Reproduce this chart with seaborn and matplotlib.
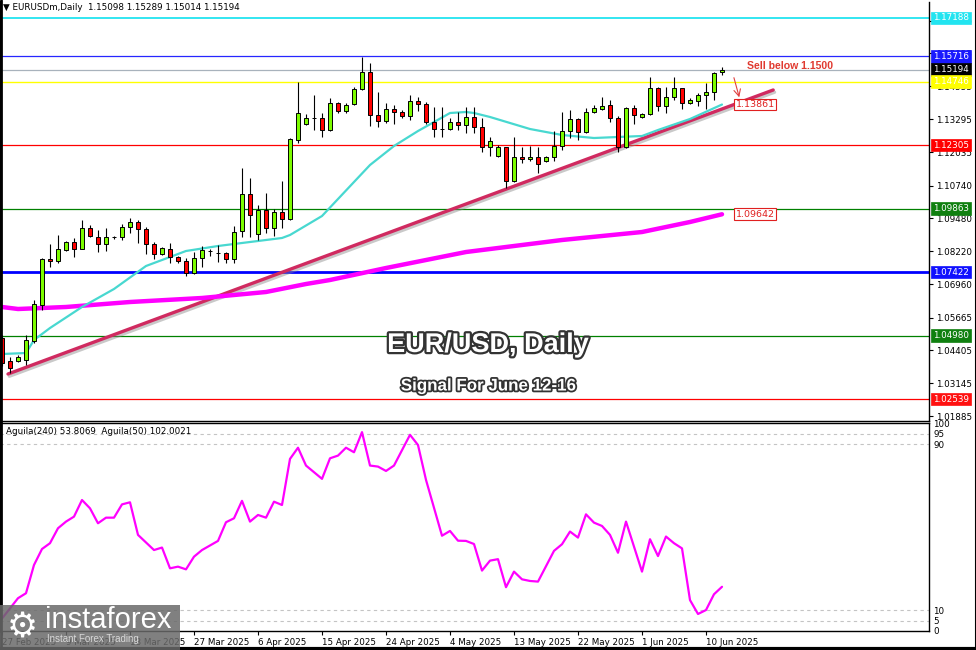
import numpy as np
import pandas as pd
import matplotlib
matplotlib.use("Agg")
import matplotlib.pyplot as plt
import matplotlib.patheffects as pe
from matplotlib.lines import Line2D
from matplotlib.patches import Rectangle
import seaborn as sns

sns.set_theme(style="white")
plt.rcParams["font.family"] = ["DejaVu Sans"]

# ---------------- data ----------------
bar_idx = list(range(91))
opens = [1.04885, 1.04001, 1.04001, 1.04039, 1.04770, 1.06154, 1.07922, 1.07845, 1.08268, 1.08576,
         1.08307, 1.09114, 1.08768, 1.08499, 1.08768, 1.08768, 1.09153, 1.09345, 1.09076, 1.08499,
         1.08115, 1.08307, 1.07999, 1.07845, 1.07384, 1.07961, 1.08230, 1.08153, 1.08153, 1.07922,
         1.08999, 1.10421, 1.08884, 1.09806, 1.09114, 1.09729, 1.09460, 1.12497, 1.13113, 1.13343,
         1.13343, 1.12882, 1.13920, 1.13612, 1.13881, 1.14458, 1.15112, 1.13459, 1.13228, 1.13689,
         1.13574, 1.13420, 1.13997, 1.13881, 1.13189, 1.12920, 1.12920, 1.13189, 1.13074, 1.13382,
         1.12997, 1.12228, 1.11882, 1.12228, 1.10921, 1.11844, 1.11767, 1.11844, 1.11690, 1.11844,
         1.12267, 1.12843, 1.13305, 1.12805, 1.13574, 1.13689, 1.13843, 1.13343, 1.12228, 1.13728,
         1.13382, 1.13497, 1.14497, 1.13805, 1.14151, 1.14497, 1.13920, 1.13997, 1.14228, 1.14343,
         1.15098]
highs = [1.05000, 1.04154, 1.04231, 1.05000, 1.06346, 1.07961, 1.08499, 1.08845, 1.08614, 1.08730,
         1.09422, 1.09229, 1.09037, 1.09114, 1.08807, 1.09268, 1.09499, 1.09422, 1.09153, 1.08576,
         1.08384, 1.08537, 1.08038, 1.07961, 1.08191, 1.08422, 1.08307, 1.08460, 1.08191, 1.09191,
         1.11421, 1.11036, 1.09998, 1.10460, 1.09845, 1.10921, 1.12574, 1.14727, 1.13497, 1.14228,
         1.13535, 1.14112, 1.13958, 1.13920, 1.14535, 1.15689, 1.15458, 1.14343, 1.13920, 1.13843,
         1.13651, 1.14228, 1.14151, 1.13958, 1.13766, 1.13766, 1.13343, 1.13574, 1.13766, 1.13766,
         1.13343, 1.12613, 1.12305, 1.12228, 1.12613, 1.12228, 1.12267, 1.12228, 1.11882, 1.12843,
         1.13574, 1.13651, 1.13343, 1.13728, 1.13843, 1.14151, 1.14035, 1.13420, 1.13766, 1.13843,
         1.13535, 1.14920, 1.14535, 1.14535, 1.14920, 1.14497, 1.14112, 1.14304, 1.14689, 1.15112,
         1.15289]
lows = [1.03809, 1.03540, 1.03962, 1.03847, 1.04693, 1.05961, 1.07615, 1.07768, 1.08230, 1.07999,
        1.08307, 1.08768, 1.08191, 1.08230, 1.08691, 1.08653, 1.08922, 1.08537, 1.08115, 1.07922,
        1.08076, 1.07768, 1.07768, 1.07269, 1.07346, 1.07615, 1.08038, 1.07807, 1.07768, 1.07768,
        1.08768, 1.08768, 1.08653, 1.08922, 1.08807, 1.09114, 1.09422, 1.12382, 1.13074, 1.12882,
        1.12613, 1.12843, 1.13535, 1.13535, 1.13843, 1.14420, 1.13036, 1.12997, 1.13151, 1.13113,
        1.13343, 1.13266, 1.13612, 1.13113, 1.12613, 1.12613, 1.12882, 1.12882, 1.12767, 1.12767,
        1.12036, 1.11882, 1.11844, 1.10652, 1.10883, 1.11613, 1.11690, 1.11229, 1.11652, 1.11690,
        1.12113, 1.12574, 1.12497, 1.12767, 1.13535, 1.13651, 1.13189, 1.12036, 1.12190, 1.13113,
        1.13343, 1.13459, 1.13612, 1.13535, 1.14035, 1.13689, 1.13881, 1.13805, 1.13689, 1.14035,
        1.15014]
closes = [1.03924, 1.03732, 1.04154, 1.04808, 1.06192, 1.07922, 1.07845, 1.08307, 1.08576, 1.08307,
          1.09114, 1.08807, 1.08499, 1.08768, 1.08760, 1.09153, 1.09345, 1.09076, 1.08499, 1.08115,
          1.08345, 1.07999, 1.07845, 1.07384, 1.07961, 1.08268, 1.08225, 1.08150, 1.07922, 1.08960,
          1.10421, 1.09614, 1.09806, 1.09114, 1.09729, 1.09460, 1.12536, 1.13535, 1.13343, 1.13335,
          1.12882, 1.13920, 1.13612, 1.13843, 1.14458, 1.15112, 1.13459, 1.13228, 1.13689, 1.13574,
          1.13420, 1.13997, 1.13881, 1.13189, 1.12920, 1.12925, 1.13189, 1.13074, 1.13382, 1.12997,
          1.12228, 1.12459, 1.12228, 1.10921, 1.11844, 1.11767, 1.11844, 1.11575, 1.11844, 1.12267,
          1.12843, 1.13305, 1.12805, 1.13574, 1.13728, 1.13805, 1.13343, 1.12228, 1.13728, 1.13459,
          1.13497, 1.14497, 1.13805, 1.14151, 1.14497, 1.13920, 1.14035, 1.14228, 1.14343, 1.15073,
          1.15194]

ma_fast_idx = [0, 3, 4, 6, 10, 14, 18, 23, 27, 31, 35, 36, 40, 44, 46, 49, 52, 56, 58, 59,
               61, 66, 70, 74, 77, 80, 82, 86, 90]
ma_fast_val = [1.04270, 1.04308, 1.04808, 1.05269, 1.06077, 1.06769, 1.07653, 1.08230, 1.08422,
               1.08576, 1.08730, 1.08845, 1.09575, 1.10883, 1.11536, 1.12267, 1.12843, 1.13535,
               1.13574, 1.13535, 1.13382, 1.12920, 1.12690, 1.12574, 1.12613, 1.12651, 1.12882,
               1.13305, 1.13861]

ma_slow_idx = [0, 2, 8, 16, 25, 29, 33, 38, 41, 48, 58, 70, 80, 86, 90]
ma_slow_val = [1.06077, 1.06000, 1.06077, 1.06269, 1.06423, 1.06538, 1.06654, 1.06961, 1.07115,
               1.07576, 1.08191, 1.08653, 1.08960, 1.09345, 1.09642]

trend_idx = [0.75, 96.4]
trend_val = [1.03501, 1.14420]

level_vals = [1.17188, 1.15716, 1.15194, 1.14746, 1.12305, 1.09863, 1.07422, 1.04980, 1.02539]
level_cols = ["#22e4f0", "#2626ff", "#a8b2bc", "#ffff00", "#ff0000", "#008000", "#0000ff", "#008000", "#ff0000"]
level_box = ["#22e4f0", "#1a1aff", "#000000", "#ffff00", "#ff0000", "#108010", "#1010ff", "#108010", "#ff1010"]
level_lw = [1.3, 0.9, 0.9, 1.0, 0.9, 0.9, 2.0, 0.9, 0.9]

price_ticks = [1.17085, 1.15825, 1.14555, 1.13295, 1.12035, 1.10740, 1.09480, 1.08220,
               1.06960, 1.05665, 1.04405, 1.03145, 1.01885]

ind_idx = [0, 2, 3, 4, 5, 6, 7, 8, 9, 10, 11, 12, 13, 14, 15, 16, 17, 19, 20, 21, 22, 23, 24, 25,
           27, 28, 29, 30, 31, 32, 33, 34, 35, 36, 37, 38, 40, 41, 42, 43, 44, 45, 46, 47, 48, 49,
           51, 52, 53, 55, 56, 57, 58, 59, 60, 61, 62, 63, 64, 65, 66, 67, 69, 70, 71, 72, 73, 74,
           75, 76, 77, 78, 80, 81, 82, 83, 84, 85, 86, 87, 88, 89, 90]
ind_val = [6.0, 15.8, 18.2, 31.8, 39.5, 42.3, 49.5, 52.7, 55.1, 63.1, 59.1, 51.9, 54.6, 54.6, 61.0,
           62.0, 46.3, 39.0, 40.2, 30.2, 31.0, 29.7, 35.8, 39.0, 43.4, 52.4, 54.3, 62.7, 52.7, 55.9,
           54.6, 62.3, 60.7, 82.9, 88.3, 79.7, 73.3, 83.2, 84.5, 88.3, 86.1, 95.8, 79.7, 79.2, 77.1,
           79.7, 94.5, 89.6, 72.8, 45.9, 48.2, 43.5, 43.4, 41.9, 29.1, 33.9, 34.6, 21.1, 28.6, 24.9,
           24.1, 23.8, 38.6, 41.8, 47.9, 45.0, 56.2, 52.2, 50.6, 46.3, 37.7, 52.7, 28.6, 44.2, 36.1,
           45.5, 42.3, 39.8, 14.9, 8.2, 10.1, 17.7, 21.3]
ind_levels = [5, 10, 90, 95]

date_ticks = [0, 8, 16, 24, 32, 40, 48, 56, 64, 72, 80, 88]
date_labels = ["27 Feb 2025", "9 Mar 2025", "18 Mar 2025", "27 Mar 2025", "6 Apr 2025",
               "15 Apr 2025", "24 Apr 2025", "4 May 2025", "13 May 2025", "22 May 2025",
               "1 Jun 2025", "10 Jun 2025"]

# ---------------- figure ----------------
W, H = 976, 650
fig = plt.figure(figsize=(W / 100, H / 100), dpi=100)
fig.patch.set_facecolor("white")

def fy(py):
    return 1 - py / H

ax = fig.add_axes([0, fy(421), 929 / W, 419 / H])
ax2 = fig.add_axes([0, fy(631), 929 / W, 208 / H])
XL = (-0.25, 115.875)
for a in (ax, ax2):
    a.set_facecolor("white")
    a.set_xlim(*XL)
    a.grid(False)
ax.set_ylim(1.01694, 1.17803)
ax2.set_ylim(0, 100.2)

FS = 6.3
ytr = ax.get_yaxis_transform()

# horizontal levels
for v, c, lw in zip(level_vals, level_cols, level_lw):
    ax.axhline(v, color=c, lw=lw, zorder=1)

# trend line with soft shadow
ax.plot(trend_idx, trend_val, color="#d02a60", lw=2.4, solid_capstyle="round", zorder=2,
        path_effects=[pe.SimpleLineShadow(offset=(1.0, -1.6), shadow_color="#888888", alpha=0.45),
                      pe.Normal()])

# moving averages
sns.lineplot(x=ma_slow_idx, y=ma_slow_val, ax=ax, color="#ff00ff", lw=3.2, sort=False,
             estimator=None, zorder=3)
sns.lineplot(x=ma_fast_idx, y=ma_fast_val, ax=ax, color="#48d8d0", lw=1.6, sort=False,
             estimator=None, zorder=3)

# candles
df = pd.DataFrame({"i": bar_idx, "o": opens, "h": highs, "l": lows, "c": closes})
ax.vlines(df["i"], df["l"], df["h"], color="black", lw=0.8, zorder=4)
up = df["c"] >= df["o"]
bodies_h = np.maximum((df["c"] - df["o"]).abs(), 0.00006)
ax.bar(df["i"][up], bodies_h[up], bottom=df["o"][up], width=0.62, color="#7cfc00",
       edgecolor="black", linewidth=0.7, zorder=5)
ax.bar(df["i"][~up], bodies_h[~up], bottom=df["c"][~up], width=0.62, color="#ff0000",
       edgecolor="black", linewidth=0.7, zorder=5)

# right axis ticks
ax.yaxis.tick_right()
ax.set_yticks(price_ticks)
ax.set_yticklabels([f"{t:.5f}" for t in price_ticks])
ax.tick_params(axis="y", which="both", right=True, length=3, width=0.8, pad=2,
               labelsize=FS, colors="black", direction="out")
ax.set_xticks([])

# level labels on right axis
for v, b in zip(level_vals, level_box):
    ax.text(1.0045, v, f"{v:.5f}", transform=ytr, fontsize=FS, color="white", va="center", ha="left",
            clip_on=False, zorder=10,
            bbox=dict(boxstyle="square,pad=0.22", fc=b, ec=b, lw=0.5))

# value labels near line ends
for v in (ma_fast_val[-1], ma_slow_val[-1]):
    ax.text(91.7, v, f"{v:.5f}", fontsize=6.8, color="#e02020", va="center", ha="left", zorder=8,
            bbox=dict(boxstyle="square,pad=0.15", fc="white", ec="#e02020", lw=0.8))

# Sell annotation
ax.annotate("", xy=(92.25, 1.14035), xytext=(91.4, 1.14996),
            arrowprops=dict(arrowstyle="->", color="#e04040", lw=0.8), zorder=8)
ax.text(93.1, 1.15343, "Sell below 1.1500", fontsize=7.6, color="#e03a30", fontweight="bold",
        family="Liberation Sans", va="center", ha="left", zorder=8)

# centre titles
ax.text(488 / 929, 1 - (345 - 2) / 419, "EUR/USD, Daily", transform=ax.transAxes,
        fontsize=19.5, fontweight="bold", family="Liberation Sans", color="white",
        ha="center", va="center", path_effects=[pe.withStroke(linewidth=3.2, foreground="#333333")],
        zorder=9)
ax.text(488 / 929, 1 - (386 - 2) / 419, "Signal For June 12-16", transform=ax.transAxes,
        fontsize=12.2, fontweight="bold", family="Liberation Sans", color="white",
        ha="center", va="center", path_effects=[pe.withStroke(linewidth=2.6, foreground="#333333")],
        zorder=9)

# spines main
ax.spines["top"].set_visible(False)
ax.spines["left"].set_color("black"); ax.spines["left"].set_linewidth(2)
ax.spines["right"].set_color("black"); ax.spines["right"].set_linewidth(1)
ax.spines["bottom"].set_color("black"); ax.spines["bottom"].set_linewidth(1)

# ---------------- indicator panel ----------------
for lv in ind_levels:
    ax2.axhline(lv, color="#c4c4c4", lw=0.8, ls=(0, (3, 3)), zorder=1)
sns.lineplot(x=ind_idx, y=ind_val, ax=ax2, color="#ff00ff", lw=1.6, sort=False, estimator=None,
             zorder=3)
ax2.yaxis.tick_right()
ax2.set_yticks([0, 5, 10, 90, 95, 100])
ax2.set_yticklabels(["0", "5", "10", "90", "95", "100"])
ax2.tick_params(axis="y", length=0, pad=3, labelsize=FS, colors="black")
ax2.set_xticks(date_ticks)
ax2.set_xticklabels(date_labels, ha="left")
ax2.tick_params(axis="x", bottom=True, length=3, width=0.8, pad=2, labelsize=FS, colors="black",
                direction="out")
for s in ax2.spines.values():
    s.set_color("black"); s.set_linewidth(1)
ax2.spines["left"].set_linewidth(2)
ax2.set_xlabel(""); ax2.set_ylabel(""); ax.set_xlabel(""); ax.set_ylabel("")
ax2.text(6 / 929, 1 - (431 - 423) / 208, "Aguila(240) 53.8069  Aguila(50) 102.0021",
         transform=ax2.transAxes, fontsize=FS, va="center", ha="left", color="black")

# header
fig.text(3 / W, fy(8), "\u25BC EURUSDm,Daily  1.15098 1.15289 1.15014 1.15194", fontsize=FS,
         va="center", ha="left", color="black")

# outer frame
fig.add_artist(Line2D([975.5 / W, 975.5 / W], [0, 1], color="black", lw=1.5, transform=fig.transFigure))
fig.add_artist(Line2D([0, 1], [1 / H, 1 / H], color="black", lw=3, transform=fig.transFigure))
fig.add_artist(Line2D([0.5 / W, 0.5 / W], [0, 1], color="black", lw=2, transform=fig.transFigure))

# watermark
fig.add_artist(Rectangle((0, 0), 180 / W, 45 / H, transform=fig.transFigure, fc="#6a6a6a",
                         ec="none", alpha=0.85, zorder=20))
fig.text(22 / W, fy(628), "\u2699", fontsize=25, color="white", ha="center", va="center", zorder=21)
fig.text(45 / W, fy(620), "instaforex", fontsize=21, color="white", ha="left", va="center",
         family="Liberation Sans", zorder=21)
fig.text(47 / W, fy(639), "Instant Forex Trading", fontsize=7, color="#d8d8d8", ha="left",
         va="center", family="Liberation Sans", zorder=21)

fig.savefig("out.png", dpi=100, facecolor="white")
